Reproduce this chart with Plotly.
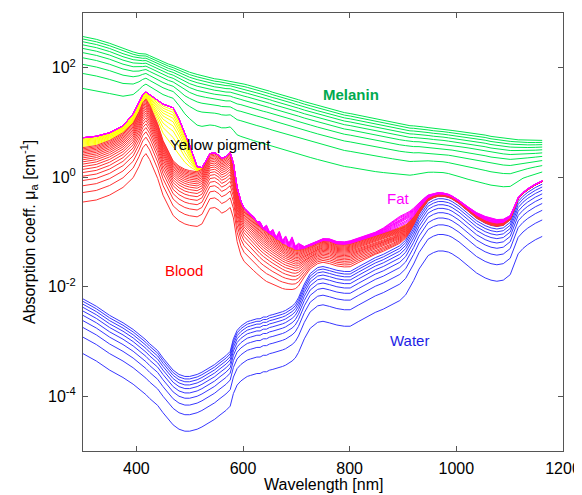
import numpy as np
import plotly.graph_objects as go

# Wavelength grid [nm]
WL = [300, 325, 350, 375, 394, 405, 412, 418, 425, 432,
      440, 450, 460, 469, 480, 491, 500, 514, 523, 530,
      538, 547, 555, 560, 568, 576, 582, 589, 596, 602,
      608, 614, 620, 626, 632, 638, 644, 650, 656, 662,
      668, 674, 680, 686, 692, 698, 704, 715, 726, 740,
      750, 762, 776, 790, 801, 816, 832, 848, 863, 880,
      894, 905, 913, 920, 930, 938, 947, 957, 966, 975,
      985, 992, 1005, 1022, 1038, 1054, 1065, 1076, 1088, 1101,
      1110, 1116, 1125, 1134, 1148, 1161]

# Absorption spectra [cm^-1]
water = [0.0060, 0.0044, 0.0030, 0.0022, 0.00166, 0.00138, 0.00120, 0.00107, 0.00091, 0.00079,
         0.00068, 0.00050, 0.00038, 0.00030, 0.00025, 0.00023, 0.00023, 0.00025, 0.000275, 0.00030,
         0.00033, 0.00038, 0.00044, 0.00048, 0.00055, 0.00066, 0.00112, 0.0016, 0.0019, 0.0021,
         0.0023, 0.0024, 0.0025, 0.0026, 0.0026, 0.0028, 0.0028, 0.0030, 0.0031, 0.0032,
         0.0033, 0.0035, 0.0037, 0.0040, 0.0044, 0.0050, 0.0063, 0.0112, 0.0174, 0.0224,
         0.0234, 0.0219, 0.020, 0.019, 0.019, 0.023, 0.028, 0.034, 0.039, 0.047,
         0.056, 0.071, 0.095, 0.13, 0.21, 0.28, 0.37, 0.42, 0.45, 0.45,
         0.43, 0.40, 0.33, 0.24, 0.178, 0.145, 0.132, 0.126, 0.132, 0.166,
         0.28, 0.40, 0.50, 0.59, 0.72, 0.83]

blood = [3.47, 3.8, 4.7, 6.5, 9.8, 15.8, 23, 27, 21, 14.5,
         9.5, 4.7, 3.0, 2.0, 1.6, 1.4, 1.32, 1.26, 1.4, 1.9,
         2.7, 2.8, 2.5, 2.2, 2.4, 2.8, 1.8, 0.65, 0.36, 0.27,
         0.23, 0.20, 0.172, 0.148, 0.126, 0.11, 0.097, 0.088, 0.079, 0.071,
         0.064, 0.058, 0.053, 0.049, 0.045, 0.042, 0.040, 0.039, 0.038, 0.041,
         0.046, 0.046, 0.040, 0.040, 0.042, 0.045, 0.048, 0.051, 0.054, 0.058,
         0.062, 0.062, 0.060, 0.058, 0.055, 0.052, 0.048, 0.045, 0.042, 0.039,
         0.036, 0.034, 0.030, 0.026, 0.022, 0.019, 0.018, 0.017, 0.016, 0.015,
         0.015, 0.014, 0.014, 0.013, 0.013, 0.012]

yellow = [1.8, 1.8, 1.8, 2.2, 4.6, 8.0, 9.0, 9.0, 11, 14,
          16, 17, 17, 16.6, 10, 4.8, 2.5, 0.3, 0.1, 0.05,
          0, 0, 0, 0, 0, 0, 0, 0, 0, 0,
          0, 0, 0, 0, 0, 0, 0, 0, 0, 0,
          0, 0, 0, 0, 0, 0, 0, 0, 0, 0,
          0, 0, 0, 0, 0, 0, 0, 0, 0, 0,
          0, 0, 0, 0, 0, 0, 0, 0, 0, 0,
          0, 0, 0, 0, 0, 0, 0, 0, 0, 0,
          0, 0, 0, 0, 0, 0]

fat = [0, 0, 0, 0, 0, 0, 0, 0, 0, 0,
       0, 0, 0, 0, 0, 0, 0, 0, 0, 0,
       0, 0, 0, 0, 0, 0, 0, 0, 0.006, 0.003,
       0.012, 0.004, 0.018, 0.005, 0.026, 0.006, 0.034, 0.007, 0.030, 0.006,
       0.036, 0.008, 0.028, 0.009, 0.032, 0.008, 0.016, 0.004, 0.004, 0.005,
       0.006, 0.007, 0.007, 0.007, 0.008, 0.009, 0.011, 0.014, 0.025, 0.05,
       0.075, 0.085, 0.085, 0.085, 0.08, 0.07, 0.055, 0.042, 0.033, 0.028,
       0.024, 0.021, 0.019, 0.021, 0.026, 0.029, 0.028, 0.026, 0.023, 0.019,
       0.017, 0.016, 0.016, 0.017, 0.019, 0.021]

melanin = [366, 325, 273, 215, 180, 158, 146, 142, 134, 126,
           116, 107, 97, 91, 88, 82, 79, 74, 70, 67,
           63, 60, 59, 58, 56, 55, 54, 53, 52, 50,
           48.4, 46.8, 44.7, 43.2, 41.7, 39.8, 38.5, 37.2, 35.5, 34.3,
           33.1, 31.6, 30.2, 29.2, 28.2, 26.9, 26.0, 24.0, 22.4, 20.4,
           19.1, 17.8, 16.2, 15.1, 14.5, 13.5, 12.6, 11.7, 11.0, 10.1,
           9.3, 8.9, 8.5, 8.4, 8.2, 7.9, 7.6, 7.3, 7.2, 7.0,
           6.8, 6.7, 6.5, 6.3, 6.0, 5.7, 5.4, 5.2, 5.0, 4.8,
           4.6, 4.4, 4.3, 4.1, 3.95, 3.85]

# Volume fractions used for each family of curves
c_water = [0.1, 0.2, 0.3, 0.4, 0.5, 0.6, 0.7, 0.8, 0.9, 1.0]
c_blood = [0.1, 0.15, 0.2, 0.25, 0.3, 0.35, 0.4, 0.45, 0.5, 0.55,
           0.6, 0.65, 0.7, 0.75, 0.8, 0.85, 0.9, 0.95, 1.0]
c_yellow = [0.1, 0.2, 0.3, 0.4, 0.5, 0.6, 0.7, 0.8, 0.9, 1.0]
c_fat = [0.1, 0.2, 0.3, 0.4, 0.5, 0.6, 0.7, 0.8, 0.9, 1.0]
c_melanin = [0.1, 0.2, 0.3, 0.4, 0.5, 0.6, 0.7, 0.8, 0.9, 1.0]

for arr in (water, blood, yellow, fat, melanin):
    assert len(arr) == len(WL)

wl = np.array(WL, float)
W = np.array(water)
B = np.array(blood)
Y = np.array(yellow)
F = np.array(fat)
M = np.array(melanin)

fig = go.Figure()

def add_family(curves, color):
    for c in curves:
        fig.add_trace(go.Scatter(x=wl, y=c, mode="lines",
                                 line=dict(color=color, width=1),
                                 hoverinfo="skip", showlegend=False))

add_family([c * W for c in c_water], "rgb(55,55,255)")
add_family([W + B + c * Y for c in c_yellow], "rgb(255,255,0)")
add_family([W + c * B for c in c_blood], "rgb(255,50,50)")
add_family([W + B + Y + c * F for c in c_fat], "rgb(255,0,255)")
add_family([W + B + Y + F + c * M for c in c_melanin], "rgb(0,232,80)")

labels = [
    ("Melanin", 802, 1.51, "rgb(0,170,80)", True),
    ("Yellow pigment", 557, 0.59, "black", False),
    ("Fat", 892, -0.39, "rgb(255,0,255)", False),
    ("Blood", 489, -1.71, "rgb(255,0,0)", False),
    ("Water", 912, -2.99, "rgb(30,30,230)", False),
]
for txt, x, y, col, bold in labels:
    fig.add_annotation(x=x, y=y, xref="x", yref="y",
                       text=f"<b>{txt}</b>" if bold else txt,
                       showarrow=False,
                       font=dict(size=15, color=col, family="Liberation Sans, Arial"))

fig.add_annotation(x=0.5, y=-0.077, xref="paper", yref="paper",
                   text="Wavelength [nm]", showarrow=False,
                   xanchor="center", yanchor="middle",
                   font=dict(size=16, color="black"))
fig.add_annotation(x=-0.1125, y=0.5, xref="paper", yref="paper",
                   text="Absorption coeff. μ<sub>a</sub> [cm<sup>-1</sup>]",
                   showarrow=False, textangle=-90,
                   xanchor="center", yanchor="middle",
                   font=dict(size=16, color="black"))

axis_common = dict(showline=True, linecolor="#555", linewidth=1,
                   mirror="ticks", ticks="inside", ticklen=5,
                   tickcolor="#555", showgrid=False, zeroline=False,
                   automargin=False, ticklabelstandoff=3,
                   tickfont=dict(size=16, color="black"))

fig.update_xaxes(range=[300, 1200], tickvals=[400, 600, 800, 1000, 1200],
                 ticktext=["400", "600", "800", "1000", "1200"], **axis_common)
fig.update_yaxes(type="log", range=[-5, 3],
                 tickvals=[1e-4, 1e-2, 1, 1e2],
                 ticktext=["10<sup>-4</sup>", "10<sup>-2</sup>", "10<sup>0</sup>", "10<sup>2</sup>"],
                 **axis_common)

# page body adds an 8 px offset; figure sized so the plot box lands at 83..563 x 13..451
fig.update_layout(width=574, height=487,
                  margin=dict(l=75, r=19, t=5, b=44, autoexpand=False),
                  plot_bgcolor="white", paper_bgcolor="white",
                  showlegend=False,
                  font=dict(family="Liberation Sans, Arial", size=16, color="black"))

fig.write_html("out.html")
